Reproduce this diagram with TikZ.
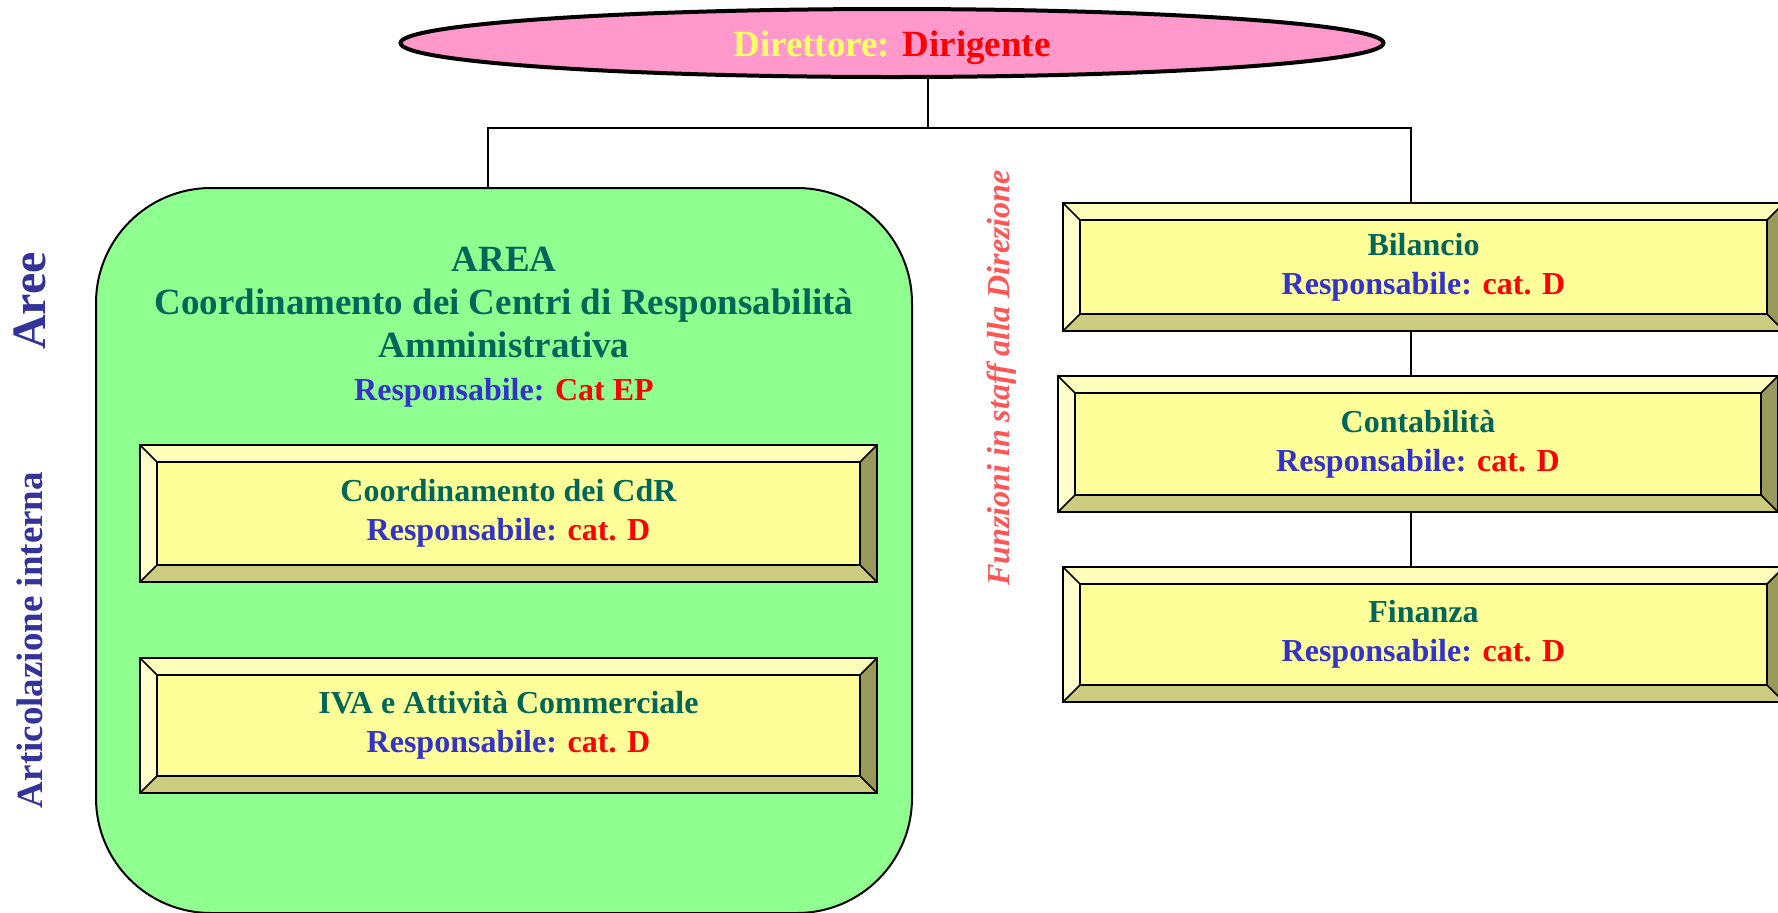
\documentclass[tikz,border=0pt]{standalone}
\usepackage{fontspec}
\setmainfont{Liberation Serif}
\usetikzlibrary{shapes.geometric}
\definecolor{areagreen}{RGB}{143,255,143}
\definecolor{dirpink}{RGB}{255,153,204}
\definecolor{boxface}{RGB}{255,255,153}
\definecolor{bevtop}{RGB}{255,255,187}
\definecolor{bevleft}{RGB}{255,255,204}
\definecolor{bevbot}{RGB}{204,204,128}
\definecolor{bevright}{RGB}{153,153,92}
\definecolor{titleteal}{RGB}{0,102,90}
\definecolor{respblue}{RGB}{51,51,204}
\definecolor{sideblue}{RGB}{51,51,153}
\definecolor{staffred}{RGB}{255,85,85}
\definecolor{diryellow}{RGB}{255,255,102}
\newcommand{\respline}[1]{{\color{respblue}Responsabile: }{\color{red}#1}}
\newcommand{\boxfont}{\bfseries\fontsize{16}{19.5}\selectfont}
\newcommand{\bigfont}{\bfseries\fontsize{18.5}{21.5}\selectfont}
\def\bev{8.5pt}
\def\pp{path picture bounding box}
\tikzset{
  conn/.style={line width=0.8pt},
  bevelbox/.style={draw, line width=1pt, fill=boxface, inner sep=0pt,
    align=center, font=\boxfont, text=titleteal,
    path picture={
      % Rand oben, links, unten, rechts
      \fill[bevtop] (\pp.north west) -- (\pp.north east) -- ([shift={(-\bev,-\bev)}]\pp.north east) -- ([shift={(\bev,-\bev)}]\pp.north west) -- cycle;
      \fill[bevleft] (\pp.north west) -- ([shift={(\bev,-\bev)}]\pp.north west) -- ([shift={(\bev,\bev)}]\pp.south west) -- (\pp.south west) -- cycle;
      \fill[bevbot] (\pp.south west) -- ([shift={(\bev,\bev)}]\pp.south west) -- ([shift={(-\bev,\bev)}]\pp.south east) -- (\pp.south east) -- cycle;
      \fill[bevright] (\pp.south east) -- ([shift={(-\bev,\bev)}]\pp.south east) -- ([shift={(-\bev,-\bev)}]\pp.north east) -- (\pp.north east) -- cycle;
      \draw[line width=1pt] ([shift={(\bev,-\bev)}]\pp.north west) rectangle ([shift={(-\bev,\bev)}]\pp.south east);
      \draw[line width=0.8pt] (\pp.north west) -- ++(\bev,-\bev);
      \draw[line width=0.8pt] (\pp.north east) -- ++(-\bev,-\bev);
      \draw[line width=0.8pt] (\pp.south west) -- ++(\bev,\bev);
      \draw[line width=0.8pt] (\pp.south east) -- ++(-\bev,\bev);
    }},
  sidetext/.style={rotate=90, inner sep=0pt, text=sideblue}
}
\begin{document}
\begin{tikzpicture}[x=0.5pt,y=-0.5pt]
  \useasboundingbox (0,0) rectangle (1778,912);
  \clip (0,0) rectangle (1778,912);
  % Direttore
  \node[ellipse, draw, line width=2pt, fill=dirpink, inner sep=0pt, text height=18pt,
        minimum width=491.5pt, minimum height=34pt, font=\bigfont, text=diryellow]
        (dir) at (892,43) {Direttore: {\color{red}Dirigente}};
  % Area
  \node[draw, line width=1pt, fill=areagreen, rounded corners=57.5pt,
        minimum width=408pt, minimum height=362.5pt] (area) at (504,550.5) {};
  \node[align=center, font=\bigfont, text=titleteal] (areatitle) at (504,327)
        {AREA\\Coordinamento dei Centri di Responsabilità\\Amministrativa\\
         {\boxfont\respline{Cat EP}}};
  % Articolazione interna
  \node[bevelbox, minimum width=368.5pt, minimum height=68.5pt] (cdr) at (508.5,513.5)
        {Coordinamento dei CdR\\\respline{cat. D}};
  \node[bevelbox, minimum width=368.5pt, minimum height=67.5pt] (iva) at (508.5,725.5)
        {IVA e Attività Commerciale\\\respline{cat. D}};
  % Funzioni in staff
  \node[bevelbox, minimum width=360.5pt, minimum height=64pt] (bil) at (1423.5,267)
        {Bilancio\\\respline{cat. D}};
  \node[bevelbox, minimum width=360pt, minimum height=68pt] (cont) at (1418,444)
        {Contabilità\\\respline{cat. D}};
  \node[bevelbox, minimum width=360.5pt, minimum height=67.5pt] (fin) at (1423.5,634.5)
        {Finanza\\\respline{cat. D}};
  % Scritte laterali
  \node[sidetext, font=\bfseries\fontsize{24}{28}\selectfont] (aree) at (30,301) {Aree};
  \node[sidetext, font=\bigfont] (artic) at (30,640) {Articolazione interna};
  \node[rotate=90, inner sep=0pt, text=staffred, font=\bfseries\itshape\fontsize{16}{19}\selectfont]
        (staff) at (1002,378) {Funzioni in staff alla Direzione};
  % Collegamenti
  \coordinate (busM) at (928,128);
  \coordinate (busL) at (488,128);
  \coordinate (busR) at (1411,128);
  \draw[conn] (dir.south -| busM) -- (busM);
  \draw[conn] (area.north -| busL) -- (busL) -- (busR) -- (bil.north -| busR);
  \draw[conn] (bil.south -| busR) -- (cont.north -| busR);
  \draw[conn] (cont.south -| busR) -- (fin.north -| busR);
\end{tikzpicture}
\end{document}
